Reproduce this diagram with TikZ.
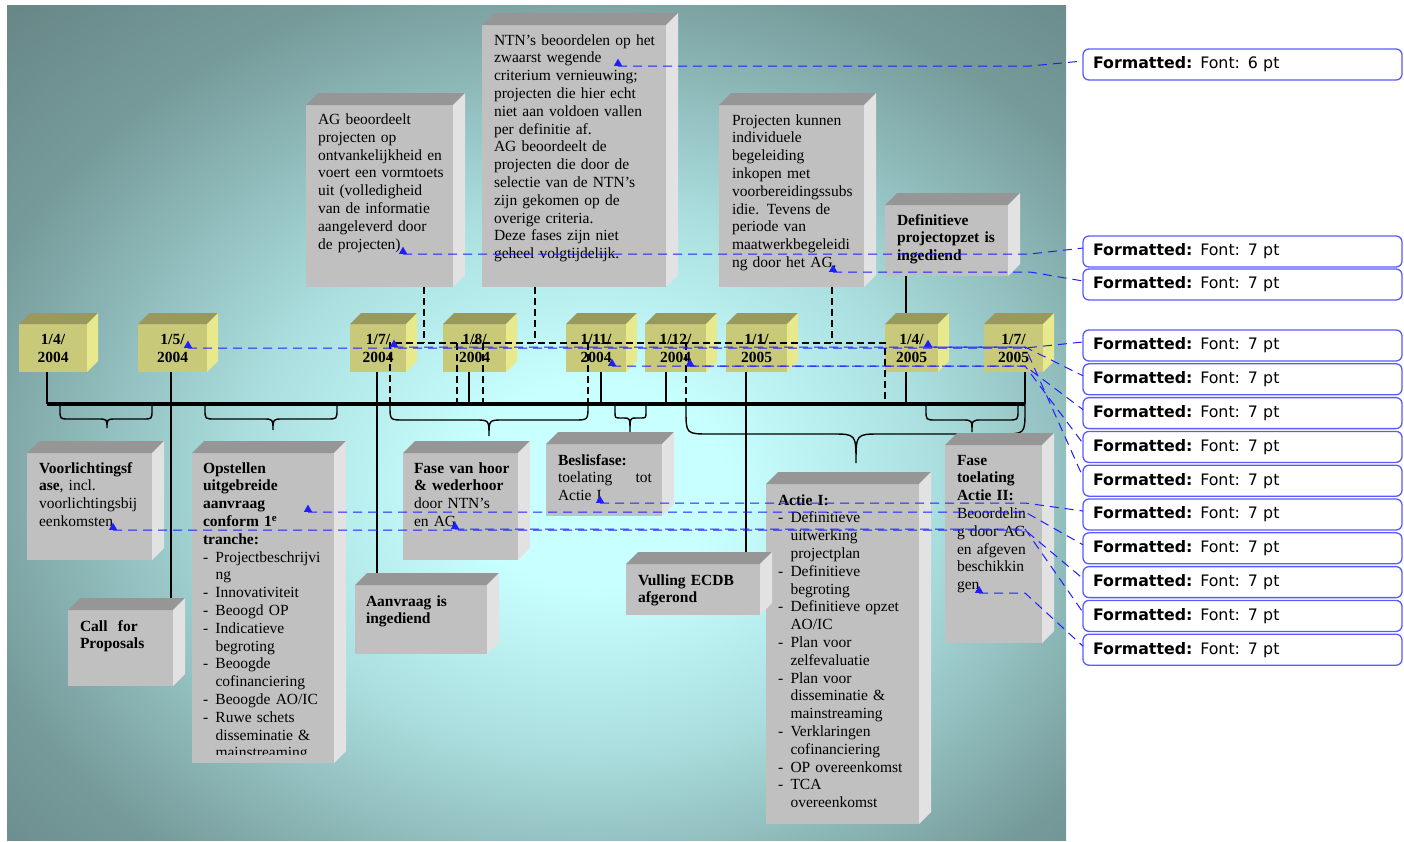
\documentclass[tikz,border=0pt]{standalone}
\usepackage{fontspec}
\setmainfont{Liberation Serif}
\newfontfamily\balloonfont{DejaVu Sans}
\usetikzlibrary{shapes.geometric}

\definecolor{bgdark}{RGB}{92,120,120}
\definecolor{bgmid}{RGB}{118,154,154}
\definecolor{bgsoft}{RGB}{172,224,224}
\definecolor{bglight}{RGB}{200,255,255}
\definecolor{grayfront}{RGB}{192,192,192}
\definecolor{graytop}{RGB}{150,150,150}
\definecolor{grayside}{RGB}{226,226,226}
\definecolor{datefront}{RGB}{201,201,122}
\definecolor{datetop}{RGB}{153,153,94}
\definecolor{dateside}{RGB}{232,232,140}
\definecolor{cmtblue}{RGB}{30,30,255}
\definecolor{notebd}{RGB}{90,90,255}

\pgfdeclareradialshading{bgglow}{\pgfpoint{3bp}{-4bp}}{color(0bp)=(bglight); color(6bp)=(bglight); color(16bp)=(bgsoft); color(30bp)=(bgmid); color(45bp)=(bgdark); color(100bp)=(bgdark)}

\pgfdeclarelayer{bg}
\pgfdeclarelayer{lines}
\pgfsetlayers{bg,lines,main}

\newcommand{\listdash}{\makebox[12.5pt][l]{-}}
\newcommand{\listcont}{\hspace*{12.5pt}}

\begin{document}
\begin{tikzpicture}[x=1pt, y=-1pt,
  txt/.style={anchor=base west, inner sep=0pt, outer sep=0pt, align=left, text width=#1,
    font=\fontsize{15.5}{17.8}\selectfont},
  txt/.default=200,
  graybox/.style={fill=grayfront, anchor=north west, inner sep=0pt, outer sep=0pt},
  datebox/.style={fill=datefront, inner sep=0pt, outer sep=0pt, minimum height=48, align=center,
    font=\fontsize{15.5}{18}\selectfont\bfseries},
  note/.style={draw=notebd, line width=1.3, fill=white, rounded corners=6, anchor=north west,
    outer sep=0pt, minimum width=319, minimum height=31, text width=299, inner xsep=10pt,
    inner ysep=0pt, align=left, font=\balloonfont\fontsize{15.8}{18}\selectfont},
  marker/.style={regular polygon, regular polygon sides=3, fill=cmtblue, inner sep=0pt,
    minimum size=9.5, anchor=south},
  cmt/.style={draw=cmtblue, line width=1, dash pattern=on 9pt off 6pt},
  phase/.style={draw=black, line width=1.7, dash pattern=on 7pt off 4pt},
  conn/.style={draw=black, line width=1.4},
  tline/.style={draw=black, line width=4},
  brace/.style={draw=black, line width=1.4}]
\useasboundingbox (0,0) rectangle (1404,841);
\begin{pgfonlayer}{bg}
\shade[shading=bgglow] (7,5) rectangle (1066,840);
\end{pgfonlayer}

\node[graybox, minimum width=147, minimum height=182] (agbox) at (306,105) {};
\node[graybox, minimum width=184, minimum height=262] (ntnbox) at (482,25) {};
\node[graybox, minimum width=145, minimum height=182] (projbox) at (719,105) {};
\node[graybox, minimum width=123, minimum height=71] (defbox) at (885,205) {};
\node[graybox, minimum width=125, minimum height=107] (voorbox) at (27,453) {};
\node[graybox, minimum width=142, minimum height=310] (opstbox) at (192,453) {};
\node[graybox, minimum width=105, minimum height=76] (callbox) at (68,610) {};
\node[graybox, minimum width=115, minimum height=107] (hoorbox) at (403,453) {};
\node[graybox, minimum width=132, minimum height=69] (aanvbox) at (355,585) {};
\node[graybox, minimum width=116, minimum height=72] (beslbox) at (546,444) {};
\node[graybox, minimum width=134, minimum height=51] (vulbox) at (626,564) {};
\node[graybox, minimum width=153, minimum height=340] (actiebox) at (766,484) {};
\node[graybox, minimum width=97, minimum height=198] (toelbox) at (945,445) {};
\foreach \b in {agbox,ntnbox,projbox,defbox,voorbox,opstbox,callbox,hoorbox,aanvbox,beslbox,vulbox,actiebox,toelbox} {
  \fill[graytop] (\b.north west) -- ([shift={(12,-12)}]\b.north west) -- ([shift={(12,-12)}]\b.north east) -- (\b.north east) -- cycle;
  \fill[grayside] (\b.north east) -- ([shift={(12,-12)}]\b.north east) -- ([shift={(12,-12)}]\b.south east) -- (\b.south east) -- cycle;
}

\node[datebox, minimum width=68] (d1) at (53,348) {1/4/\\2004};
\node[datebox, minimum width=69] (d2) at (172.5,348) {1/5/\\2004};
\node[datebox, minimum width=56] (d3) at (378,348) {1/7/\\2004};
\node[datebox, minimum width=63] (d4) at (474.5,348) {1/8/\\2004};
\node[datebox, minimum width=60] (d5) at (596,348) {1/11/\\2004};
\node[datebox, minimum width=61] (d6) at (675.5,348) {1/12/\\2004};
\node[datebox, minimum width=61] (d7) at (756.5,348) {1/1/\\2005};
\node[datebox, minimum width=53] (d8) at (911.5,348) {1/4/\\2005};
\node[datebox, minimum width=59] (d9) at (1013.5,348) {1/7/\\2005};
\foreach \d in {d1,d2,d3,d4,d5,d6,d7,d8,d9} {
  \fill[datetop] (\d.north west) -- ([shift={(11,-11)}]\d.north west) -- ([shift={(11,-11)}]\d.north east) -- (\d.north east) -- cycle;
  \fill[dateside] (\d.north east) -- ([shift={(11,-11)}]\d.north east) -- ([shift={(11,-11)}]\d.south east) -- (\d.south east) -- cycle;
}

\node[txt] (agtxt) at (318,124.5) {AG beoordeelt\\projecten op\\ontvankelijkheid en\\voert een vormtoets\\uit (volledigheid\\van de informatie\\aangeleverd door\\de projecten)};
\node[txt] (ntntxt) at (494,45) {NTN’s beoordelen op het\\zwaarst wegende\\criterium vernieuwing;\\projecten die hier echt\\niet aan voldoen vallen\\per definitie af.\\AG beoordeelt de\\projecten die door de\\selectie van de NTN’s\\zijn gekomen op de\\overige criteria.\\Deze fases zijn niet\\geheel volgtijdelijk.};
\node[txt] (projtxt) at (732,125) {Projecten kunnen\\individuele\\begeleiding\\inkopen met\\voorbereidingssubs\\idie. Tevens de\\periode van\\maatwerkbegeleidi\\ng door het AG.};
\node[txt] (deftxt) at (897,225) {\bfseries Definitieve\\projectopzet is\\ingediend};
\node[txt] (voortxt) at (39,473) {\textbf{Voorlichtingsf}\\\textbf{ase}, incl.\\voorlichtingsbij\\eenkomsten};
\begin{scope}
\clip (opstbox.north west) rectangle ([yshift=9pt]opstbox.south east);
\node[txt] (opsttxt) at (203,473) {\textbf{Opstellen}\\\textbf{uitgebreide}\\\textbf{aanvraag}\\\textbf{conform 1\textsuperscript{e}}\\\textbf{tranche:}\\\listdash Projectbeschrijvi\\\listcont ng\\\listdash Innovativiteit\\\listdash Beoogd OP\\\listdash Indicatieve\\\listcont begroting\\\listdash Beoogde\\\listcont cofinanciering\\\listdash Beoogde AO/IC\\\listdash Ruwe schets\\\listcont disseminatie \&\\\listcont mainstreaming};
\end{scope}
\node[txt] (calltxt) at (80,631) {\bfseries Call~ for\\Proposals};
\node[txt] (hoortxt) at (414,473) {\textbf{Fase van hoor}\\\textbf{\& wederhoor}\\door NTN’s\\en AG};
\node[txt] (aanvtxt) at (366,606) {\bfseries Aanvraag is\\ingediend};
\node[txt=94] (besltxt) at (558,465) {\textbf{Beslisfase:}\\toelating\hfill tot\\Actie I};
\node[txt] (vultxt) at (638,585) {\bfseries Vulling ECDB\\afgerond};
\node[txt] (actietxt) at (778,505) {\textbf{Actie I:}\\\listdash Definitieve\\\listcont uitwerking\\\listcont projectplan\\\listdash Definitieve\\\listcont begroting\\\listdash Definitieve opzet\\\listcont AO/IC\\\listdash Plan voor\\\listcont zelfevaluatie\\\listdash Plan voor\\\listcont disseminatie \&\\\listcont mainstreaming\\\listdash Verklaringen\\\listcont cofinanciering\\\listdash OP overeenkomst\\\listdash TCA\\\listcont overeenkomst};
\node[txt] (toeltxt) at (957,465) {\textbf{Fase}\\\textbf{toelating}\\\textbf{Actie II:}\\Beoordelin\\g door AG\\en afgeven\\beschikkin\\gen};

\coordinate (t1) at (47,404);
\coordinate (t2) at (171,404);
\coordinate (t3) at (377,404);
\coordinate (t4) at (469,404);
\coordinate (t5) at (601,404);
\coordinate (t6) at (666,404);
\coordinate (t7) at (746,404);
\coordinate (t8) at (906,404);
\coordinate (t9) at (1025,404);
\begin{pgfonlayer}{lines}
\draw[tline] (t1) -- (t9);
\draw[conn] (t1 |- d1.south) -- (t1);
\draw[conn] (t2 |- d2.south) -- (t2 |- callbox.north);
\draw[conn] (t3 |- d3.south) -- (t3 |- aanvbox.north);
\draw[conn] (t4 |- d4.south) -- (t4);
\draw[conn] (t5 |- d5.south) -- (t5);
\draw[conn] (t6 |- d6.south) -- (t6);
\draw[conn] (t7 |- d7.south) -- (t7 |- vulbox.north);
\draw[conn] (t8 |- defbox.south) -- (t8);
\draw[conn] (t9 |- d9.south) -- (t9);
\foreach \xa/\xb/\xm/\yb/\yt/\r in {60/152/107/419/428/9, 205/337/273/419/430/10, 390/588/489/420/436/14, 615/646/630/418/432/6, 686/1025/856/434/463/24, 926/1018/972/420/432/10}
  \draw[brace] (\xa,404) -- (\xa,\yb-\r) .. controls (\xa,\yb) .. (\xa+\r,\yb) -- (\xm-\r,\yb) .. controls (\xm,\yb) .. (\xm,\yt) .. controls (\xm,\yb) .. (\xm+\r,\yb) -- (\xb-\r,\yb) .. controls (\xb,\yb) .. (\xb,\yb-\r) -- (\xb,404);
\end{pgfonlayer}

\coordinate (ph) at (0,343);
\coordinate (tA) at (390,404);
\coordinate (tB) at (885,404);
\coordinate (v1) at (424,0);
\coordinate (v2) at (535,0);
\coordinate (v3) at (832,0);
\draw[phase] (tA) -- (tA |- ph) -- (tB |- ph) -- (tB);
\draw[phase] (v1 |- agbox.south) -- (v1 |- ph);
\draw[phase] (v2 |- ntnbox.south) -- (v2 |- ph);
\draw[phase] (v3 |- projbox.south) -- (v3 |- ph);
\foreach \x in {457,483,588,686}
  \draw[phase] (\x,343) -- (\x,404);

\node[note] (n1) at (1083,49) {\textbf{Formatted:} Font: 6 pt};
\node[note] (n2) at (1083,236) {\textbf{Formatted:} Font: 7 pt};
\node[note] (n3) at (1083,269) {\textbf{Formatted:} Font: 7 pt};
\foreach \k [evaluate=\k as \i using int(\k+4), evaluate=\k as \t using 330+33.8*\k] in {0,...,9}
  \node[note] (n\i) at (1083,\t) {\textbf{Formatted:} Font: 7 pt};

\node[marker] (m1) at (618,66) {};
\node[marker] (m2) at (403,254) {};
\node[marker] (m3) at (833,272) {};
\node[marker] (m4) at (188,348) {};
\node[marker] (m5) at (394,347) {};
\node[marker] (m6) at (612,366) {};
\node[marker] (m7) at (690,366) {};
\node[marker] (m8) at (928,347) {};
\node[marker] (m9) at (600,503) {};
\node[marker] (m10) at (308,512) {};
\node[marker] (m11) at (113,530) {};
\node[marker] (m12) at (455,529) {};
\node[marker] (m13) at (979,593) {};
\coordinate (bu) at (1030,0);
\coordinate (bl) at (1025,0);
\foreach \m/\n/\c in {m1/n1/bu, m2/n2/bu, m3/n3/bu, m4/n4/bl, m5/n5/bl, m6/n6/bl, m7/n7/bl, m8/n8/bl, m9/n9/bl, m10/n10/bl, m11/n11/bl, m12/n12/bl, m13/n13/bl}
  \draw[cmt] (\m.south) -- (\m.south -| \c) -- ([yshift=-12pt]\n.north west);
\end{tikzpicture}
\end{document}
